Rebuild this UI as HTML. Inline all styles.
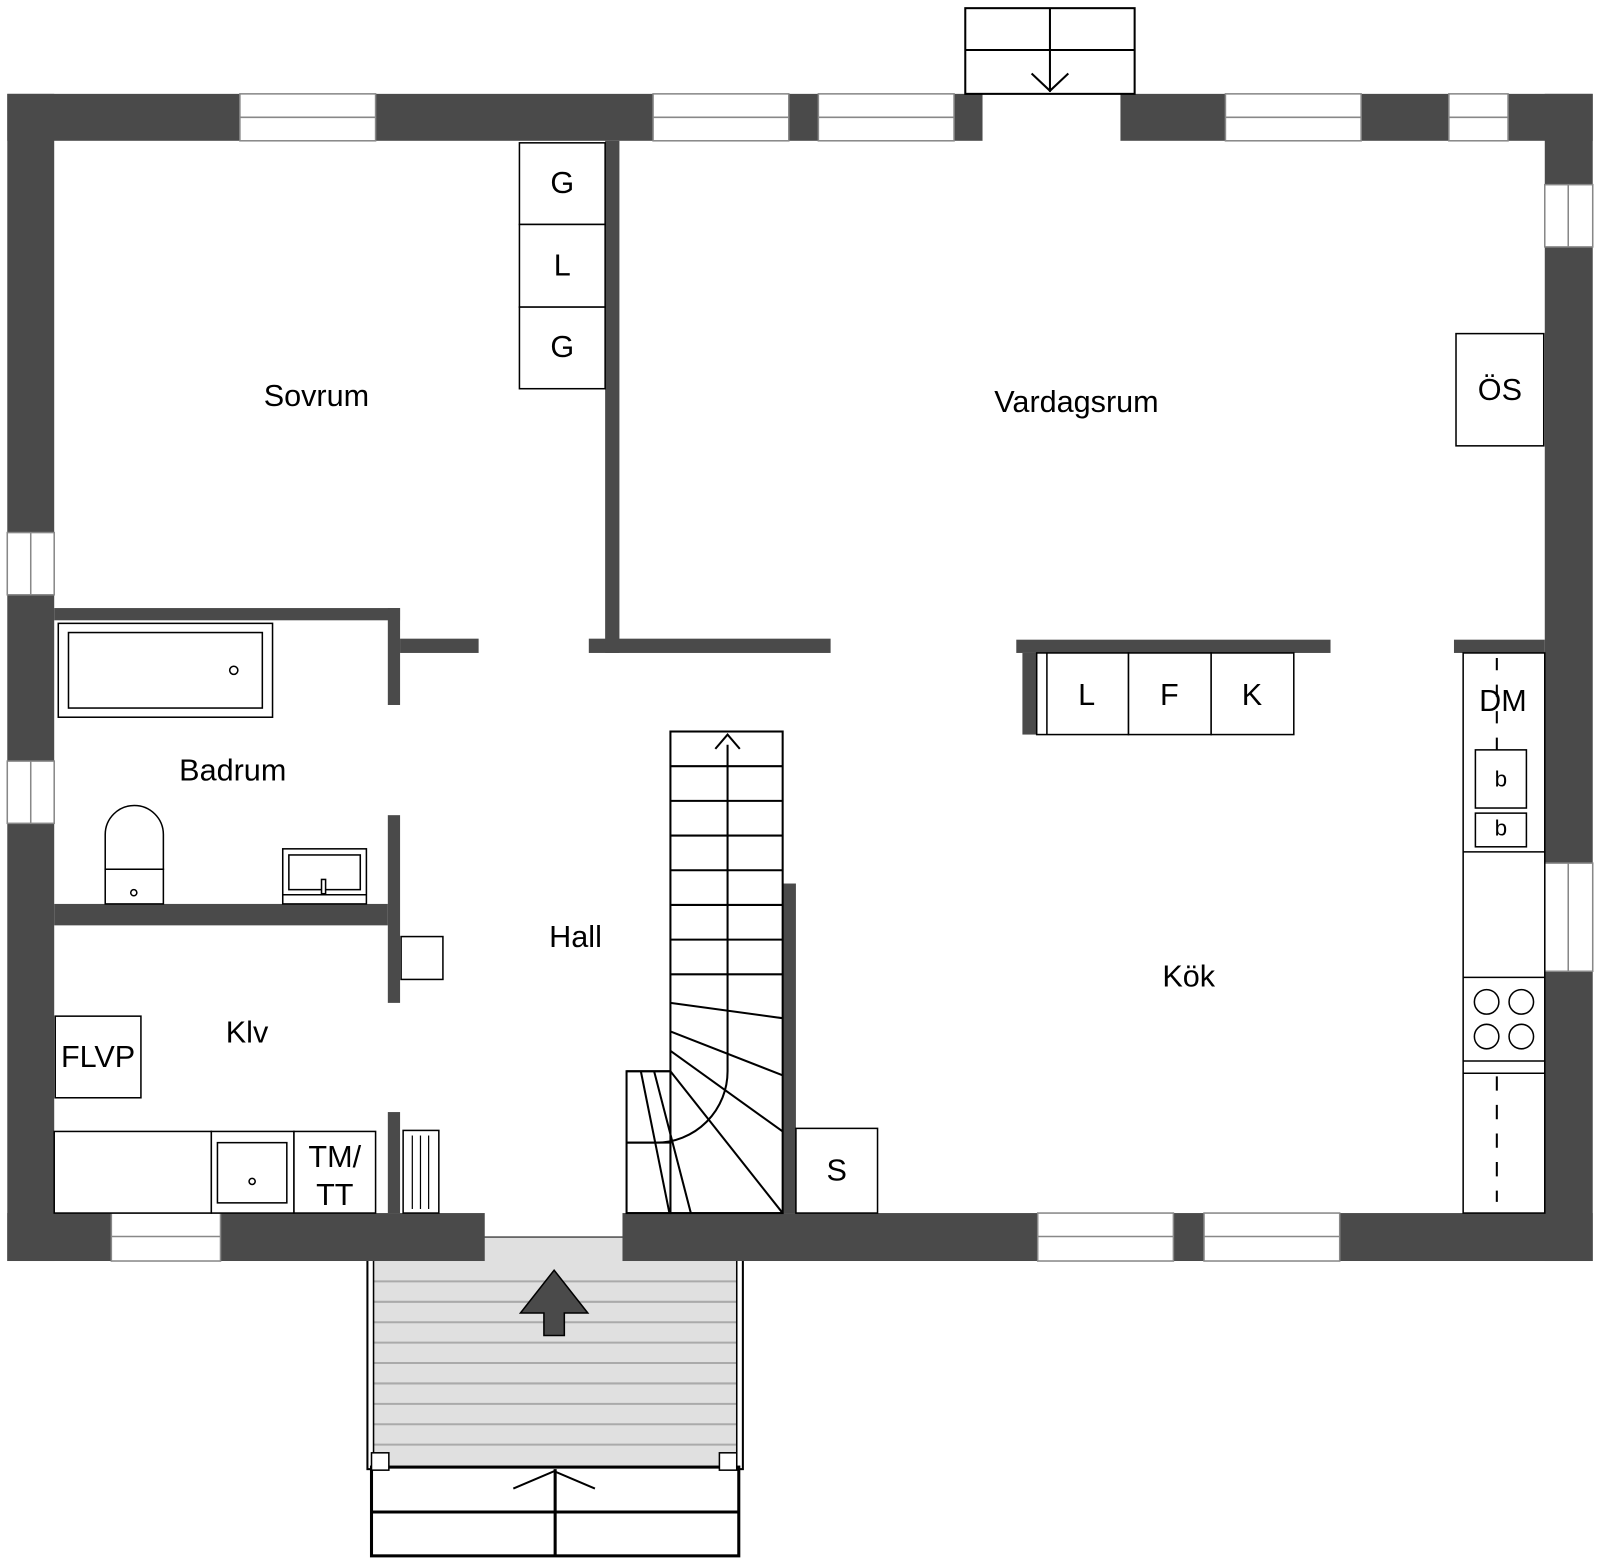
<!DOCTYPE html>
<html><head><meta charset="utf-8"><style>html,body{margin:0;padding:0;background:#fff}svg{display:block}</style></head><body>
<svg width="1600" height="1563" viewBox="0 0 1568 1532" xmlns="http://www.w3.org/2000/svg" font-family="Liberation Sans, sans-serif">
<rect width="1568" height="1532" fill="#fff"/>
<!-- porch -->
<rect x="360" y="1213" width="368" height="227" fill="#fff" stroke="#000" stroke-width="2"/>
<rect x="366" y="1213" width="356" height="227" fill="#e0e0e0"/>
<g stroke="#aaa" stroke-width="2">
<line x1="366" y1="1256" x2="722" y2="1256"/><line x1="366" y1="1276" x2="722" y2="1276"/><line x1="366" y1="1296" x2="722" y2="1296"/><line x1="366" y1="1316" x2="722" y2="1316"/><line x1="366" y1="1336" x2="722" y2="1336"/><line x1="366" y1="1356" x2="722" y2="1356"/><line x1="366" y1="1376" x2="722" y2="1376"/><line x1="366" y1="1396" x2="722" y2="1396"/><line x1="366" y1="1416" x2="722" y2="1416"/>
</g>
<line x1="366" y1="1213" x2="366" y2="1440" stroke="#000" stroke-width="1.5"/><line x1="722" y1="1213" x2="722" y2="1440" stroke="#000" stroke-width="1.5"/>
<polygon points="543,1245 576,1287 553,1287 553,1309 533,1309 533,1287 510,1287" fill="#4a4a4a" stroke="#000" stroke-width="1.5"/>
<rect x="364" y="1438" width="360" height="87" fill="#fff" stroke="#000" stroke-width="3"/>
<line x1="364" y1="1482" x2="724" y2="1482" stroke="#000" stroke-width="3"/>
<line x1="544" y1="1440" x2="544" y2="1525" stroke="#000" stroke-width="3"/>
<polyline points="503,1459 543,1442 583,1459" fill="none" stroke="#000" stroke-width="2"/>
<rect x="364" y="1424" width="17" height="17" fill="#fff" stroke="#000" stroke-width="1.5"/>
<rect x="705" y="1424" width="17" height="17" fill="#fff" stroke="#000" stroke-width="1.5"/>
<!-- outer walls -->
<g fill="#4a4a4a">
<rect x="7" y="92" width="956" height="46"/>
<rect x="1098" y="92" width="463" height="46"/>
<rect x="7" y="92" width="46" height="1144"/>
<rect x="1514" y="92" width="47" height="1144"/>
<rect x="7" y="1189" width="468" height="47"/>
<rect x="610" y="1189" width="951" height="47"/>
<!-- interior -->
<rect x="593" y="138" width="14" height="502"/>
<rect x="577" y="626" width="237" height="14"/>
<rect x="392" y="626" width="77" height="14"/>
<rect x="53" y="596" width="339" height="12"/>
<rect x="380" y="596" width="12" height="95"/>
<rect x="380" y="799" width="12" height="184"/>
<rect x="380" y="1090" width="12" height="99"/>
<rect x="53" y="886" width="327" height="21"/>
<rect x="996" y="627" width="308" height="13"/>
<rect x="1002" y="640" width="14" height="80"/>
<rect x="1425" y="627" width="89" height="13"/>
<rect x="767" y="866" width="13" height="323"/>
</g>
<!-- windows -->
<g fill="#fff" stroke="#888" stroke-width="1.5">
<rect x="235" y="92" width="133" height="46"/><line x1="235" y1="115" x2="368" y2="115"/>
<rect x="640" y="92" width="133" height="46"/><line x1="640" y1="115" x2="773" y2="115"/>
<rect x="802" y="92" width="133" height="46"/><line x1="802" y1="115" x2="935" y2="115"/>
<rect x="1201" y="92" width="133" height="46"/><line x1="1201" y1="115" x2="1334" y2="115"/>
<rect x="1420" y="92" width="58" height="46"/><line x1="1420" y1="115" x2="1478" y2="115"/>
<rect x="109" y="1189" width="107" height="47"/><line x1="109" y1="1212" x2="216" y2="1212"/>
<rect x="1017" y="1189" width="133" height="47"/><line x1="1017" y1="1212" x2="1150" y2="1212"/>
<rect x="1180" y="1189" width="133" height="47"/><line x1="1180" y1="1212" x2="1313" y2="1212"/>
<rect x="7" y="522" width="46" height="61"/><line x1="30" y1="522" x2="30" y2="583"/>
<rect x="7" y="746" width="46" height="61"/><line x1="30" y1="746" x2="30" y2="807"/>
<rect x="1514" y="181" width="47" height="61"/><line x1="1537" y1="181" x2="1537" y2="242"/>
<rect x="1514" y="846" width="47" height="106"/><line x1="1537" y1="846" x2="1537" y2="952"/>
</g>
<rect x="963" y="92" width="135" height="46" fill="#fff"/>
<!-- top door -->
<g fill="none" stroke="#000" stroke-width="2">
<rect x="946" y="8" width="166" height="84"/>
<line x1="946" y1="49" x2="1112" y2="49"/><line x1="1029" y1="8" x2="1029" y2="90"/>
<polyline points="1011,72 1029,89 1047,72"/>
</g>
<!-- fixtures -->
<g fill="#fff" stroke="#000" stroke-width="1.5">
<rect x="509" y="140" width="84" height="80"/><rect x="509" y="220" width="84" height="81"/><rect x="509" y="301" width="84" height="80"/>
<rect x="1427" y="327" width="86" height="110"/>
<rect x="1016" y="640" width="90" height="80"/><rect x="1106" y="640" width="81" height="80"/><rect x="1187" y="640" width="81" height="80"/>
<line x1="1026" y1="640" x2="1026" y2="720"/>
<rect x="1434" y="640" width="80" height="549"/>
<line x1="1434" y1="835" x2="1514" y2="835"/><line x1="1434" y1="958" x2="1514" y2="958"/><line x1="1434" y1="1040" x2="1514" y2="1040"/><line x1="1434" y1="1052" x2="1514" y2="1052"/>
<rect x="1446" y="735" width="50" height="57"/><rect x="1446" y="797" width="50" height="33"/>
<circle cx="1457" cy="982" r="12"/><circle cx="1491" cy="982" r="12"/><circle cx="1457" cy="1016" r="12"/><circle cx="1491" cy="1016" r="12"/>
<rect x="780" y="1106" width="80" height="83"/>
<rect x="57" y="611" width="210" height="92"/><rect x="67" y="620" width="190" height="74"/>
<circle cx="229" cy="657" r="4"/>
<path d="M103,852 L103,818 A28.5,28.5 0 0 1 160,818 L160,852 Z"/>
<rect x="103" y="852" width="57" height="34"/><circle cx="131" cy="875" r="3"/>
<rect x="277" y="832" width="82" height="54"/><rect x="283" y="838" width="70" height="34"/>
<line x1="277" y1="877" x2="359" y2="877"/><rect x="315" y="862" width="4" height="14"/>
<rect x="393" y="918" width="41" height="42"/>
<rect x="54" y="996" width="84" height="80"/>
<rect x="53" y="1109" width="154" height="80"/><rect x="207" y="1109" width="81" height="80"/><rect x="288" y="1109" width="80" height="80"/>
<rect x="213" y="1120" width="68" height="59"/><circle cx="247" cy="1158" r="3"/>
<rect x="395" y="1108" width="35" height="81"/>
</g>
<g stroke="#000" stroke-width="1.2">
<line x1="1467" y1="645" x2="1467" y2="735" stroke-dasharray="12,14" stroke-width="2"/>
<line x1="1467" y1="1055" x2="1467" y2="1178" stroke-dasharray="14,14" stroke-width="2"/>
<line x1="404" y1="1113" x2="404" y2="1185"/><line x1="412" y1="1113" x2="412" y2="1185"/><line x1="420" y1="1113" x2="420" y2="1185"/>
</g>
<!-- stairs -->
<g fill="none" stroke="#000" stroke-width="2">
<rect x="657" y="717" width="110" height="472" fill="#fff"/>
<rect x="614" y="1050" width="43" height="139" fill="#fff"/>
<line x1="614" y1="1050" x2="657" y2="1050"/>
<line x1="657" y1="751" x2="767" y2="751"/><line x1="657" y1="785" x2="767" y2="785"/><line x1="657" y1="819" x2="767" y2="819"/><line x1="657" y1="853" x2="767" y2="853"/><line x1="657" y1="887" x2="767" y2="887"/><line x1="657" y1="921" x2="767" y2="921"/><line x1="657" y1="955" x2="767" y2="955"/>
<line x1="657" y1="983" x2="767" y2="998"/>
<line x1="657" y1="1011" x2="767" y2="1054"/>
<line x1="657" y1="1030" x2="767" y2="1109"/>
<line x1="657" y1="1050" x2="767" y2="1189"/>
<line x1="641" y1="1050" x2="677" y2="1189"/>
<line x1="628" y1="1050" x2="656" y2="1189"/>
<line x1="614" y1="1120" x2="657" y2="1120"/>
<rect x="657" y="1050" width="0" height="139"/>
<path d="M713,730 L713,1050 A70,70 0 0 1 643,1120 L614,1120"/>
<polyline points="701,734 713,720 725,734"/>
</g>
<rect x="615" y="1051" width="41" height="137" fill="none"/>
<!-- labels -->
<g font-size="30" fill="#000" text-anchor="middle">
<text x="310" y="398">Sovrum</text>
<text x="1055" y="404">Vardagsrum</text>
<text x="228" y="765">Badrum</text>
<text x="564" y="928">Hall</text>
<text x="1165" y="967">Kök</text>
<text x="242" y="1022">Klv</text>
<text x="551" y="189">G</text><text x="551" y="270">L</text><text x="551" y="350">G</text>
<text x="1470" y="392">ÖS</text>
<text x="1065" y="691">L</text><text x="1146" y="691">F</text><text x="1227" y="691">K</text>
<text x="1473" y="697">DM</text>
<text x="820" y="1157">S</text>
<text x="96" y="1046">FLVP</text>
<text x="328" y="1144">TM/</text><text x="328" y="1181">TT</text>
<text x="1471" y="771" font-size="22">b</text><text x="1471" y="819" font-size="22">b</text>
</g>
</svg>
</body></html>
